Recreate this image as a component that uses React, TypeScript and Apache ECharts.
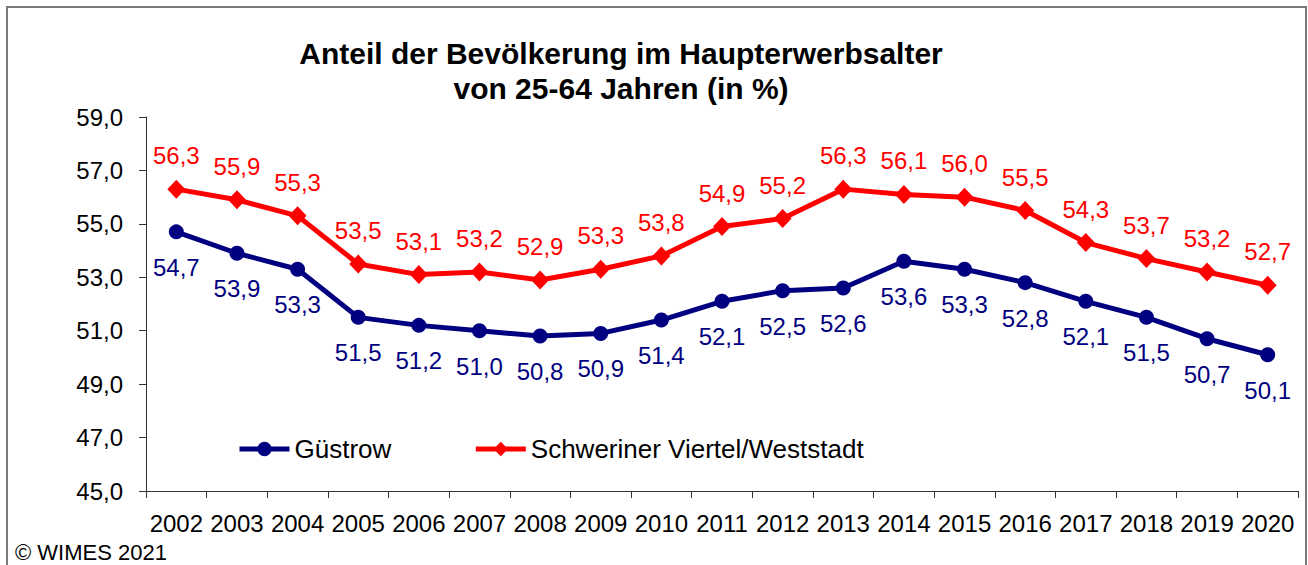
import React, { useEffect, useRef } from "react";
import * as echarts from "echarts";

const years = ["2002","2003","2004","2005","2006","2007","2008","2009","2010","2011","2012","2013","2014","2015","2016","2017","2018","2019","2020"];
const guestrow = [54.7, 53.9, 53.3, 51.5, 51.2, 51.0, 50.8, 50.9, 51.4, 52.1, 52.5, 52.6, 53.6, 53.3, 52.8, 52.1, 51.5, 50.7, 50.1];
const schweriner = [56.3, 55.9, 55.3, 53.5, 53.1, 53.2, 52.9, 53.3, 53.8, 54.9, 55.2, 56.3, 56.1, 56.0, 55.5, 54.3, 53.7, 53.2, 52.7];
const titleLines = ["Anteil der Bevölkerung im Haupterwerbsalter", "von 25-64 Jahren (in %)"];
const copyright = "© WIMES 2021";

const FONT = "'Liberation Sans', Arial, sans-serif";
const fmt = (v: number) => v.toFixed(1).replace(".", ",");

export default function App() {
  const ref = useRef<HTMLDivElement>(null);
  useEffect(() => {
    document.body.style.margin = "0";
    const chart = echarts.init(ref.current!, null, { renderer: "svg" });
    chart.setOption({
      animation: false,
      backgroundColor: "#ffffff",
      textStyle: { fontFamily: FONT },
      grid: { left: 146, right: 10, top: 117, bottom: 74, containLabel: false },
      legend: {
        left: 237,
        top: 436,
        padding: 0,
        itemWidth: 50,
        itemHeight: 18,
        itemGap: 82,
        lineStyle: { width: 5 },
        textStyle: { fontFamily: FONT, fontSize: 26, color: "#000" },
        data: ["Güstrow", "Schweriner Viertel/Weststadt"],
      },
      xAxis: {
        type: "category",
        data: years,
        boundaryGap: true,
        axisLine: { lineStyle: { color: "#333", width: 1 } },
        axisTick: { show: true, length: 7, alignWithLabel: false, lineStyle: { color: "#333" } },
        axisLabel: { margin: 20, fontSize: 24, color: "#000", fontFamily: FONT, interval: 0 },
        splitLine: { show: false },
      },
      yAxis: {
        type: "value",
        min: 45,
        max: 59,
        interval: 2,
        axisLine: { show: true, lineStyle: { color: "#333", width: 1 } },
        axisTick: { show: true, length: 7, lineStyle: { color: "#333" } },
        axisLabel: { margin: 23, fontSize: 24, color: "#000", fontFamily: FONT, formatter: (v: number) => fmt(v) },
        splitLine: { show: false },
      },
      series: [
        {
          name: "Güstrow",
          type: "line",
          data: guestrow,
          symbol: "circle",
          symbolSize: 15,
          lineStyle: { color: "#000080", width: 5 },
          itemStyle: { color: "#000080" },
          label: {
            show: true,
            position: "bottom",
            distance: 16,
            fontSize: 24,
            color: "#000080",
            fontFamily: FONT,
            formatter: (p: any) => fmt(p.value),
          },
        },
        {
          name: "Schweriner Viertel/Weststadt",
          type: "line",
          data: schweriner,
          symbol: "diamond",
          symbolSize: [18, 19],
          lineStyle: { color: "#ff0000", width: 5 },
          itemStyle: { color: "#ff0000" },
          label: {
            show: true,
            position: "top",
            distance: 12,
            fontSize: 24,
            color: "#ff0000",
            fontFamily: FONT,
            formatter: (p: any) => fmt(p.value),
          },
        },
      ],
      graphic: [
        {
          type: "rect",
          shape: { x: 7, y: 7, width: 1299, height: 620 },
          style: { fill: "none", stroke: "#7a7a7a", lineWidth: 2 },
          silent: true,
        },
        {
          type: "text",
          x: 621,
          y: 53,
          style: { text: titleLines[0], font: `bold 30px ${FONT}`, fill: "#000", align: "center", verticalAlign: "middle" },
        },
        {
          type: "text",
          x: 621,
          y: 88,
          style: { text: titleLines[1], font: `bold 30px ${FONT}`, fill: "#000", align: "center", verticalAlign: "middle" },
        },
        {
          type: "text",
          x: 15,
          y: 552,
          style: { text: copyright, font: `22px ${FONT}`, fill: "#000", align: "left", verticalAlign: "middle" },
        },
      ],
    });
    return () => chart.dispose();
  }, []);
  return <div ref={ref} style={{ position: "absolute", left: 0, top: 0, width: 1308, height: 565 }} />;
}
